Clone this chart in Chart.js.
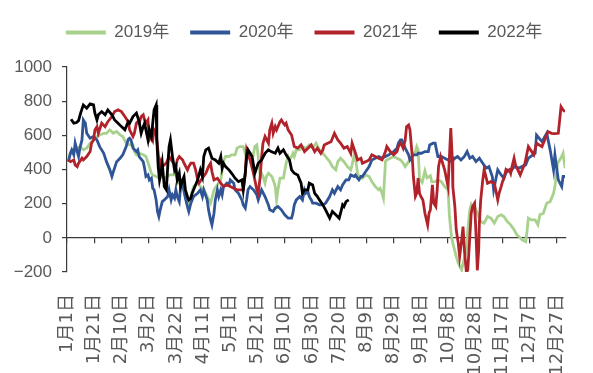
<!DOCTYPE html>
<html>
<head>
<meta charset="utf-8">
<script src="https://cdn.jsdelivr.net/npm/chart.js@4.4.0/dist/chart.umd.min.js"></script>
<style>
  html, body { margin: 0; padding: 0; background: #fff; }
  #wrap { width: 593px; height: 373px; }
</style>
</head>
<body>
<div id="wrap"><canvas id="chart"></canvas></div>
<script>
// day of year (0 = 1月1日) and value
const series2019 = [[1,456],[2.5,495],[5,515],[7.5,525],[9.5,534],[12,515],[14.5,525],[17,554],[19.5,573],[22,593],[24,602],[27,612],[29,612],[31.5,632],[34,612],[36.5,622],[39,602],[41,593],[43.5,554],[46,544],[48.5,544],[49.5,505],[51,486],[53,495],[56,486],[58,476],[60.5,417],[62,378],[63,368],[65.5,359],[68,349],[70,359],[73,349],[75,368],[77.5,368],[80,368],[82.5,320],[83.5,339],[85,329],[86,281],[87,242],[88.5,212],[89.5,203],[91,242],[93,300],[96,320],[98,300],[100.5,281],[103,242],[105.5,203],[106.5,232],[108,281],[110.5,310],[113,339],[114,398],[115,446],[116.5,476],[119,476],[121,486],[123.5,486],[125,525],[127,534],[129.5,534],[131,495],[132,515],[134.5,495],[137,486],[138,534],[139.5,544],[140.5,476],[142,359],[143,378],[144,359],[145.5,320],[146.5,359],[148,378],[150.5,359],[151.5,339],[153,300],[154,222],[155,281],[156.5,349],[159,349],[161,437],[162.5,476],[163.5,456],[165,476],[166,495],[167,476],[168.5,515],[171,515],[173,534],[175.5,525],[178,544],[180.5,525],[183,554],[185.5,515],[188,495],[190,476],[193,446],[195,417],[197.5,398],[199,446],[201,466],[203.5,446],[206,417],[208.5,398],[209.5,427],[211,486],[212,466],[213.5,378],[214.5,359],[217,349],[219.5,368],[222,359],[224,329],[226.5,300],[229,281],[230,290],[231.5,261],[232.5,232],[234,446],[235,456],[237.5,466],[240,476],[242.5,466],[245,456],[247,437],[248.5,417],[251,446],[253.5,476],[256,505],[257,534],[258,515],[259,345],[261,325],[263,392],[264.5,351],[267,363],[268,328],[270.5,329],[272.5,339],[275,329],[277.5,300],[280,281],[281,125],[282.5,8],[283.5,-31],[286,-109],[287.5,-148],[290,-187],[291,-148],[293.5,-70],[294.5,47],[296,164],[297,193],[299.5,144],[300.5,164],[302,135],[304,95],[306.5,86],[309,125],[311.5,115],[314,86],[316.5,125],[319,135],[321,125],[323.5,95],[326,76],[328.5,47],[330.5,18],[332,8],[334.5,-12],[337,-22],[338,37],[339,115],[341.5,105],[344,105],[346,76],[347.5,135],[350,144],[352.5,203],[355,212],[357.5,261],[358.5,300],[360.5,437],[363.5,476],[364.5,495],[366,408]];

const series2020 = [[1,446],[2.5,495],[3.5,515],[5,486],[6,554],[7.5,505],[8.5,476],[9.5,525],[11,573],[12,690],[13.5,671],[14.5,612],[17,583],[19.5,593],[22,573],[24,534],[27,495],[29,446],[31.5,398],[33,359],[34.5,398],[36.5,446],[39,466],[41,486],[43.5,534],[45,577],[46,583],[47,573],[48.5,525],[51,505],[52,515],[53,476],[56,446],[57,408],[58,359],[59.5,368],[60.5,339],[62,349],[63,290],[64,281],[65.5,222],[66.5,154],[67.5,125],[68.5,164],[70,212],[71.5,222],[74,242],[75,281],[76.5,222],[77.5,252],[79,232],[80,281],[81,242],[82.5,212],[83.5,300],[85,310],[87,232],[88.5,183],[89.5,154],[91,203],[93,242],[96,261],[98,281],[99.5,242],[100.5,281],[103,222],[104,164],[105.5,105],[106.5,76],[108,144],[109,222],[110.5,281],[111.5,242],[113,281],[114,252],[115,300],[117.5,320],[119,310],[120,339],[122.5,320],[123.5,281],[126,261],[128.5,222],[129.5,193],[131,174],[132,222],[133,281],[134.5,300],[137,281],[139.5,252],[140.5,222],[143,281],[145.5,242],[148,193],[149,164],[151.5,154],[153,174],[155,183],[157.5,164],[160,135],[162.5,115],[165,115],[166,144],[167,193],[168.5,222],[171,242],[173,222],[174.5,281],[175.5,261],[177,271],[178,242],[179.5,222],[180.5,203],[183,203],[185.5,193],[188,193],[190,203],[193,242],[195,281],[196.5,261],[199,300],[201,281],[202.5,310],[205,339],[207,339],[208.5,368],[211,359],[212,368],[213.5,349],[214.5,339],[216,359],[217,359],[219.5,388],[222,417],[224,456],[226.5,466],[229,476],[231.5,466],[234,476],[236.5,486],[240,505],[242.5,525],[243.5,554],[245,573],[246,573],[247,554],[248.5,525],[251,486],[252,456],[254.5,486],[257,486],[258,495],[260.5,495],[263,505],[265.5,505],[266.5,544],[269,554],[270.5,554],[271.5,515],[272.5,476],[275,476],[277.5,466],[280,456],[282.5,446],[285,466],[287,476],[289.5,456],[292,476],[294,505],[296,466],[298,476],[300.5,446],[303,466],[305.5,437],[308,408],[310,417],[312.5,359],[313.5,281],[316.5,398],[319,368],[321,349],[323.5,398],[326,388],[328.5,417],[332,408],[337,427],[339,466],[344,495],[345,602],[349,563],[352.5,612],[355,515],[357.5,398],[358.5,486],[361,339],[363.5,300],[364.5,359],[366,359]];

const series2021 = [[1,456],[2.5,446],[5,456],[6,427],[7.5,417],[8.5,437],[11,466],[12,456],[14.5,476],[17,505],[18,554],[19.5,573],[20.5,632],[22,651],[23,612],[25.5,671],[28,651],[30,680],[33,710],[35,739],[37.5,749],[40,739],[42.5,710],[45,680],[46,632],[48.5,593],[49.5,612],[51,671],[52,680],[53,671],[54.5,710],[56,720],[57,690],[58,671],[59.5,690],[60.5,573],[62,593],[63,573],[64,632],[65.5,612],[66.5,534],[68,417],[69,446],[70,417],[73,437],[75,476],[77.5,446],[80,417],[81,456],[82.5,476],[85,456],[86,437],[88.5,398],[89.5,417],[91,437],[93,437],[94.5,398],[96,339],[97,320],[99.5,350],[102,378],[104,417],[105.5,437],[106.5,388],[108,339],[110.5,349],[113,320],[115,300],[117.5,310],[120,300],[122.5,290],[125,281],[127,281],[129.5,281],[131,378],[132,515],[134.5,456],[137,378],[139.5,281],[140.5,261],[142,359],[143,476],[144,554],[145.5,593],[148,554],[149,632],[150.5,671],[151.5,612],[153,651],[154,632],[156.5,680],[157.5,690],[159,671],[160,661],[161,671],[162.5,632],[165,602],[167,534],[169.5,525],[172,544],[174.5,505],[177,525],[179.5,544],[182,505],[184,525],[186.5,495],[188,515],[189,544],[191.5,554],[194,563],[196.5,612],[199,573],[201,554],[203.5,525],[206,534],[208.5,495],[209.5,554],[212,495],[213.5,456],[216,466],[217,437],[219.5,446],[222,456],[224,486],[226.5,476],[229,466],[231.5,456],[234,505],[235,534],[237.5,505],[240,486],[242.5,505],[243.5,534],[245,554],[246,544],[247,525],[248.5,573],[249.5,651],[251,661],[252,632],[253.5,495],[254.5,359],[256,242],[257,261],[258,349],[259,261],[260,242],[261.5,222],[263,144],[265,76],[266,144],[267,164],[268.5,310],[269.5,203],[271,183],[272,281],[273,417],[274.5,476],[276,437],[277.5,398],[279,339],[280,300],[281,476],[282,642],[283,476],[283.5,300],[285,183],[286,47],[287.5,-31],[288.5,-109],[290,-12],[291,66],[292,-70],[293.5,-205],[294.5,-187],[296,8],[297,144],[298,183],[299.5,203],[300.5,27],[301.5,-190],[302.5,-70],[303,86],[304,222],[305.5,339],[306.5,398],[307.5,368],[309,320],[311.5,329],[314,320],[315,281],[316.5,222],[317.5,261],[319,300],[320,329],[321,349],[322.5,398],[323.5,388],[325,398],[326,378],[327,417],[328.5,466],[329.5,427],[333,368],[336.5,437],[339,534],[343,486],[345,554],[349,534],[351,573],[353.5,622],[356,612],[358.5,610],[361,612],[363,768],[364.5,749],[366,739]];

const series2022 = [[3,694],[5,671],[7,675],[8.5,686],[10,730],[12,778],[14.5,759],[17,784],[19.5,778],[20.5,730],[22,690],[23,720],[25.5,739],[28,720],[30,749],[33,720],[35,690],[37.5,671],[40,651],[42.5,632],[45,680],[46,671],[48.5,710],[51,730],[53,680],[54.5,612],[56,651],[57,671],[58,632],[59.5,573],[60.5,632],[62,593],[63,671],[64,749],[65.5,778],[66,573],[67,417],[68,339],[69,378],[70,437],[71.5,300],[73,281],[74,417],[75,534],[76,573],[77.5,476],[79,398],[80,417],[81,339],[82.5,378],[83.5,300],[85,339],[86,359],[87,281],[88.5,242],[89.5,222],[91,232],[92,261],[93,281],[96,339],[98,398],[99.5,359],[100.5,476],[102,515],[104,525],[106.5,466],[109,456],[111.5,437],[113,476],[114,408],[115,437],[116.5,417],[119,398],[121,378],[123.5,349],[126,329],[128.5,339],[129.5,281],[131,378],[132,476],[133,515],[136,476],[138,378],[140.5,437],[143,456],[145.5,495],[148,515],[150,505],[153,495],[155,525],[156.5,495],[159,515],[161,486],[163.5,456],[165,398],[167,378],[169.5,368],[172,320],[173,261],[174.5,281],[177,281],[178,320],[180.5,310],[182,261],[184,242],[185.5,222],[188,193],[190,164],[193,115],[195,154],[197.5,135],[200,115],[201,144],[202.5,193],[203.5,183],[205,212],[207,222]];

const seriesNames = ["2019年", "2020年", "2021年", "2022年"];
const seriesColors = ["#A9D18E", "#2F5597", "#B2222A", "#000000"];

const tickDays = [0, 20, 40, 60, 80, 100, 120, 140, 160, 180, 200, 220, 240, 260, 280, 300, 320, 340, 360];
const tickLabels = ["1月1日", "1月21日", "2月10日", "3月2日", "3月22日", "4月11日", "5月1日", "5月21日", "6月10日", "6月30日", "7月20日", "8月9日", "8月29日", "9月18日", "10月8日", "10月28日", "11月17日", "12月7日", "12月27日"];
const yTicks = [-200, 0, 200, 400, 600, 800, 1000];

const FONT = "'Liberation Sans', 'Noto Sans CJK SC', sans-serif";
const AXIS = "#3a3a3a";

Chart.defaults.color = "#595959";
Chart.defaults.font.family = FONT;

function toPoints(s) {
    return s.map(p => ({ x: p[0], y: p[1] }));
}

const allSeries = [series2019, series2020, series2021, series2022];
const datasets = allSeries.map((s, i) => ({
    label: seriesNames[i],
    data: toPoints(s),
    borderColor: seriesColors[i],
    backgroundColor: seriesColors[i],
    borderWidth: 2.8,
    pointRadius: 0,
    tension: 0,
    order: allSeries.length - i
}));

function setDayTicks(scale) {
    scale.ticks = tickDays.map(v => ({ value: v }));
}

// legend sits a bit right of the plot centre in the reference
const legendShift = {
    id: "legendShift",
    afterLayout(chart) {
        if (!chart.legend) return;
        chart.legend.left += 15;
        chart.legend.right += 15;
    }
};

new Chart(document.getElementById("chart"), {
    type: "line",
    data: { datasets: datasets },
    plugins: [legendShift],
    options: {
        responsive: true,
        maintainAspectRatio: false,
        animation: false,
        devicePixelRatio: 1,
        layout: { padding: { top: 3, right: 15, left: 0, bottom: 0 } },
        plugins: {
            tooltip: { enabled: false },
            legend: {
                position: "top",
                labels: {
                    boxWidth: 40,
                    boxHeight: 4,
                    padding: 21,
                    color: "#595959",
                    font: { size: 17, family: FONT },
                    sort: (a, b) => a.datasetIndex - b.datasetIndex,
                    generateLabels: chart =>
                        Chart.defaults.plugins.legend.labels.generateLabels(chart).map(l => {
                            l.lineWidth = 0;
                            l.fillStyle = l.strokeStyle;
                            return l;
                        })
                }
            }
        },
        scales: {
            x: {
                type: "linear",
                position: "bottom",
                min: 0,
                max: 366,
                grid: { display: false },
                border: { display: false },
                afterBuildTicks: setDayTicks,
                afterFit: s => { s.height = 101; },
                ticks: {
                    autoSkip: false,
                    minRotation: 90,
                    maxRotation: 90,
                    padding: 14,
                    color: "#595959",
                    font: { size: 18, family: "'DejaVu Sans', 'Noto Sans CJK SC', sans-serif" },
                    callback: v => tickLabels[tickDays.indexOf(v)]
                }
            },
            // empty spacer between legend and plot
            xTop: {
                type: "linear",
                position: "top",
                min: 0,
                max: 366,
                grid: { display: false },
                border: { display: false },
                ticks: { display: false },
                afterFit: s => { s.height = 16; }
            },
            x0: {
                type: "linear",
                position: { y: 0 },
                min: 0,
                max: 366,
                afterBuildTicks: setDayTicks,
                ticks: { display: false },
                grid: { drawOnChartArea: false, tickLength: 5, color: AXIS, lineWidth: 1.2 },
                border: { color: AXIS, width: 1.2 }
            },
            y: {
                min: -200,
                max: 1000,
                afterBuildTicks: s => { s.ticks = yTicks.map(v => ({ value: v })); },
                afterFit: s => { s.width = 67; },
                grid: { drawOnChartArea: false, tickLength: 5, color: AXIS, lineWidth: 1.2 },
                border: { color: AXIS, width: 1.2 },
                ticks: {
                    padding: 10,
                    color: "#595959",
                    font: { size: 17, family: FONT },
                    callback: v => v < 0 ? "\u2212" + Math.abs(v) : String(v)
                }
            }
        }
    }
});
</script>
</body>
</html>
